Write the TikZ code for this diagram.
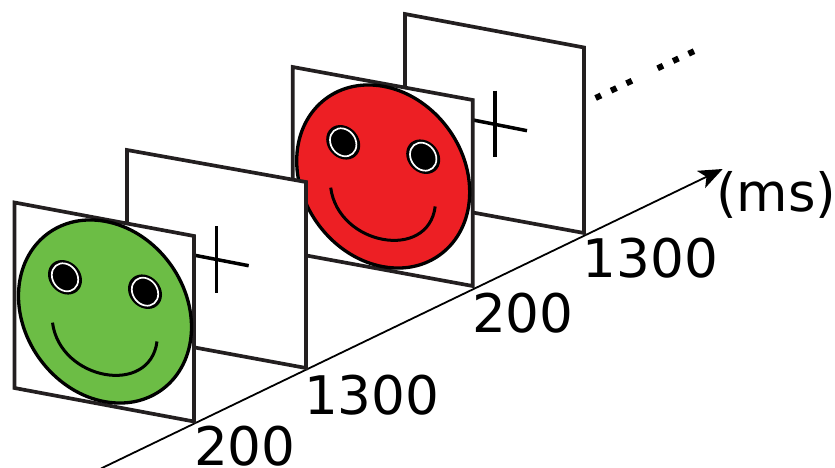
\documentclass[tikz,border=0pt]{standalone}
\usepackage{fontspec}
\setmainfont{DejaVu Sans}
\usetikzlibrary{arrows.meta}
\definecolor{ink}{HTML}{231F20}
\definecolor{facegreen}{HTML}{6CBD45}
\definecolor{facered}{HTML}{ED1F24}
\tikzset{
  panel/.style={draw=ink,fill=white,line width=3.7pt,line join=miter},
  crossline/.style={draw=black,line width=3.5pt},
  faceoutline/.style={draw=black,line width=3.3pt},
  eyeouter/.style={fill=black},
  eyering/.style={draw=white,line width=1.7pt},
  smileline/.style={draw=black,line width=3pt},
  axisline/.style={draw=black,line width=1.8pt,-{Stealth[length=24pt,width=19pt,inset=6pt]}},
  dotrow/.style={draw=black,line width=6pt,dash pattern=on 6pt off 11.1pt},
  timelabel/.style={anchor=base west,inner sep=0pt,outer sep=0pt,font=\fontsize{53.2}{60}\selectfont,text=black},
  unitlabel/.style={timelabel,font=\fontsize{52.8}{60}\selectfont}
}
% #1,#2 centre; #3,#4 radii; four Bezier quarters, so that the surrounding shear applies exactly
\newcommand{\ovalpath}[4]{%
  ({#1+#3},{#2})
  .. controls ({#1+#3},{#2+0.5523*#4}) and ({#1+0.5523*#3},{#2+#4}) .. ({#1},{#2+#4})
  .. controls ({#1-0.5523*#3},{#2+#4}) and ({#1-#3},{#2+0.5523*#4}) .. ({#1-#3},{#2})
  .. controls ({#1-#3},{#2-0.5523*#4}) and ({#1-0.5523*#3},{#2-#4}) .. ({#1},{#2-#4})
  .. controls ({#1+0.5523*#3},{#2-#4}) and ({#1+#3},{#2-0.5523*#4}) .. ({#1+#3},{#2}) -- cycle}
\newcommand{\smileyface}[3]{%
  \begin{scope}[shift={(#1,#2)},cm={1,-0.18,0,1,(0,0)}]
    \path[faceoutline,fill=#3] \ovalpath{0}{0}{86.5}{90.2};
    \foreach \ex in {-40,40}{
      \fill[eyeouter] \ovalpath{\ex}{-27}{17}{17};
      \draw[eyering] \ovalpath{\ex}{-27}{13.2}{13.8};
    }
    \path[smileline] (-52.5,20.6) .. controls (-45,77) and (45,77) .. (52,20.6);
  \end{scope}}
\begin{document}
\begin{tikzpicture}[x=1pt,y=-1pt]
\useasboundingbox (0,0) rectangle (835,468);
% time axis
\coordinate (axisstart) at (101,468.5);
\coordinate (axisend) at (722.7,169);
\draw[axisline] (axisstart) -- (axisend);
% back pair
\draw[panel] (405,14) -- (584,47.5) -- (584,233) -- (405,200) -- cycle;
\draw[crossline] (495,90.7) -- (495,157);
\draw[crossline] (463,118) -- (527,130.7);
\draw[panel] (292.7,67) -- (472.7,100) -- (472.7,286) -- (292.7,253) -- cycle;
\smileyface{383.2}{176.5}{facered}
% front pair
\draw[panel] (127,150) -- (306,182) -- (306,368) -- (127,335) -- cycle;
\draw[crossline] (216.7,226) -- (216.7,292.7);
\draw[crossline] (185,253.4) -- (248.7,265.7);
\draw[panel] (14.5,202.5) -- (194,236) -- (194,421.5) -- (14.5,388) -- cycle;
\smileyface{105}{311.5}{facegreen}
% continuation dots
\draw[dotrow] (595.6,98) -- (632,80.7);
\draw[dotrow] (657.6,68.3) -- (694.4,51);
% labels
\node[timelabel] (t1) at (194,465.5) {200};
\node[timelabel] (t2) at (304,414) {1300};
\node[timelabel] (t3) at (472,332) {200};
\node[timelabel] (t4) at (582.5,277) {1300};
\node[unitlabel] (unit) at (716,211) {(ms)};
\end{tikzpicture}
\end{document}
